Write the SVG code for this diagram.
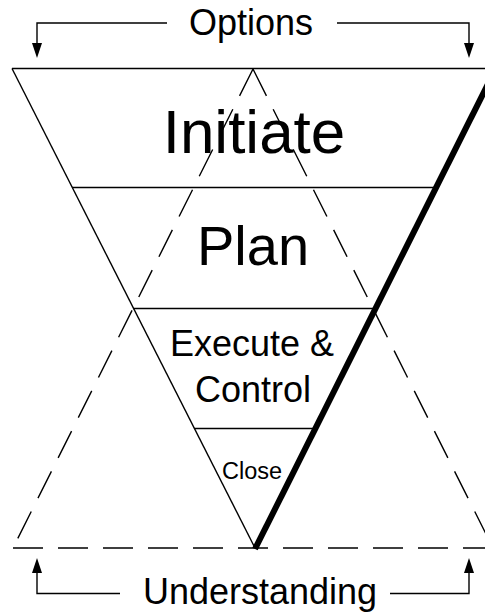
<svg xmlns="http://www.w3.org/2000/svg" width="485" height="613" viewBox="0 0 485 613">
  <style>
    .thin { stroke: #000; stroke-width: 1.4; fill: none; }
    .dash { stroke: #000; stroke-width: 1.4; fill: none; stroke-dasharray: 30 15; }
    .thick { stroke: #000; stroke-width: 6; fill: none; }
    .lbl { font-family: "Liberation Sans", Arial, sans-serif; fill: #000; text-anchor: middle; }
  </style>
  <defs>
    <!-- arrowhead pointing down, tip at origin -->
    <path id="head-down" d="M-5,-15 L5,-15 L0,0 Z" fill="#000"/>
    <!-- arrowhead pointing up, tip at origin -->
    <path id="head-up" d="M-5,15 L5,15 L0,0 Z" fill="#000"/>
  </defs>
  <rect width="485" height="613" fill="#fff"/>

  <!-- dashed understanding triangle -->
  <g id="understanding-triangle">
    <path class="dash" d="M253,69 L13,548"/>
    <path class="dash" d="M253,69 L493,548"/>
    <path class="dash" d="M13,548 L493,548"/>
  </g>

  <!-- inverted phase funnel -->
  <g id="funnel">
    <path class="thin" d="M12,68.5 L485,68.5"/>
    <path class="thin" d="M12,68.5 L255,548"/>
    <path class="thick" d="M255,549 L496,68"/>
  </g>

  <g id="initiate">
    <text class="lbl" x="254" y="153" font-size="62">Initiate</text>
  </g>
  <g id="plan">
    <path class="thin" d="M72,187.5 L434,187.5"/>
    <text class="lbl" x="253" y="265" font-size="56">Plan</text>
  </g>
  <g id="execute-control">
    <path class="thin" d="M133,308.5 L374,308.5"/>
    <text class="lbl" x="252" y="356" font-size="36">Execute &amp;</text>
    <text class="lbl" x="253" y="402" font-size="36">Control</text>
  </g>
  <g id="close">
    <path class="thin" d="M194,428.5 L315,428.5"/>
    <text class="lbl" x="252" y="479" font-size="23.5">Close</text>
  </g>

  <!-- bracket arrows -->
  <g id="connectors">
    <path class="thin" d="M167,23 L37,23 L37,45"/>
    <use href="#head-down" x="37" y="58"/>
    <path class="thin" d="M337,23 L469,23 L469,45"/>
    <use href="#head-down" x="469" y="58"/>
    <path class="thin" d="M120,593.5 L37,593.5 L37,571"/>
    <use href="#head-up" x="37" y="558"/>
    <path class="thin" d="M390,593.5 L469,593.5 L469,571"/>
    <use href="#head-up" x="469" y="558"/>
  </g>

  <g id="options">
    <text class="lbl" x="251" y="35" font-size="36">Options</text>
  </g>
  <g id="understanding">
    <text class="lbl" x="260" y="604" font-size="36">Understanding</text>
  </g>
</svg>
